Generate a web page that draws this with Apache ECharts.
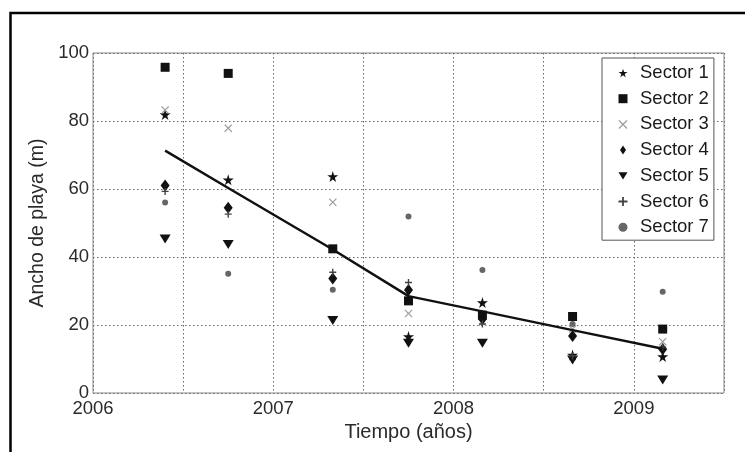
<!DOCTYPE html>
<html>
<head>
<meta charset="utf-8">
<script src="https://cdn.jsdelivr.net/npm/echarts@6/dist/echarts.min.js"></script>
<style>html,body{margin:0;padding:0;background:#fff}#c{width:745px;height:452px}</style>
</head>
<body>
<div id="c"></div>
<script>
// Sampling dates (years)
var fechas = [2006.40, 2006.75, 2007.33, 2007.75, 2008.16, 2008.66, 2009.16];
var sector1 = [81.9, 62.7, 63.7, 16.6, 26.6, 11.2, 10.7];
var sector2 = [95.8, 94.0, 42.4, 27.1, 22.9, 22.5, 18.8];
var sector3 = [83.2, 77.9, 56.1, 23.4, 20.8, 18.8, 15.1];
var sector4 = [61.0, 54.5, 33.7, 30.3, 21.8, 16.8, 12.9];
var sector5 = [45.3, 43.7, 21.3, 14.6, 14.6, 9.7, 3.8];
var sector6 = [59.3, 52.6, 35.5, 32.5, 20.3, 10.9, 13.5];
var sector7 = [56.0, 35.1, 30.4, 51.9, 36.2, 20.3, 29.8];
var tendencia = [71.3, 60.3, 42.2, 28.5, 24.0, 18.5, 13.0];
var xTicks = [2006, 2007, 2008, 2009];
var yTicks = [0, 20, 40, 60, 80, 100];
var nombres = ['Sector 1','Sector 2','Sector 3','Sector 4','Sector 5','Sector 6','Sector 7'];

var STAR = 'path://M50,0 L61,35 L98,35 L68,57 L79,91 L50,70 L21,91 L32,57 L2,35 L39,35 Z';
var CROSS = 'path://M0,1 L1,0 L5,4 L9,0 L10,1 L6,5 L10,9 L9,10 L5,6 L1,10 L0,9 L4,5 Z';
var PLUS = 'path://M4,0 L6,0 L6,4 L10,4 L10,6 L6,6 L6,10 L4,10 L4,6 L0,6 L0,4 L4,4 Z';
var TRI_DOWN = 'path://M0,0 L10,0 L5,8 Z';
var DIAM = 'path://M4,0 L8,6 L4,12 L0,6 Z';

var estilos = [
  {symbol: STAR, size: 11, color: '#111'},
  {symbol: 'rect', size: 9, color: '#111'},
  {symbol: CROSS, size: 8, color: '#9a9a9a'},
  {symbol: DIAM, size: [9, 12], color: '#111'},
  {symbol: TRI_DOWN, size: [11, 9], color: '#111'},
  {symbol: PLUS, size: 7, color: '#444'},
  {symbol: 'circle', size: 6, color: '#666'}
];
var valores = [sector1, sector2, sector3, sector4, sector5, sector6, sector7];

function pares(v) { return fechas.map(function (x, i) { return [x, v[i]]; }); }

var series = valores.map(function (v, k) {
  return {
    name: nombres[k], type: 'scatter', data: pares(v),
    symbol: estilos[k].symbol, symbolSize: estilos[k].size,
    itemStyle: {color: estilos[k].color, opacity: 1},
    z: 3
  };
});
series.push({
  name: 'tendencia', type: 'line', data: pares(tendencia),
  showSymbol: false, symbol: 'none',
  lineStyle: {color: '#111', width: 2.5}, z: 4, silent: true
});

var legendData = nombres.map(function (n, k) {
  return {name: n, icon: estilos[k].symbol};
});

var chart = echarts.init(document.getElementById('c'), null, {renderer: 'canvas'});
var font = '"Liberation Sans", Arial, sans-serif';
chart.setOption({
  animation: false,
  backgroundColor: '#fff',
  textStyle: {fontFamily: font},
  grid: {left: 93, right: 21, top: 53, bottom: 59, show: true, borderColor: '#8a8a8a', borderWidth: 1},
  xAxis: {
    type: 'value', min: 2006, max: 2009.5, interval: 0.5,
    name: 'Tiempo (años)', nameLocation: 'middle', nameGap: 26,
    nameTextStyle: {fontSize: 20, color: '#2a2a2a', fontFamily: font},
    axisLine: {show: false}, axisTick: {show: false},
    axisLabel: {
      fontSize: 18.5, color: '#2a2a2a', margin: 6, fontFamily: font,
      formatter: function (v) { return xTicks.indexOf(Math.round(v * 2) / 2) >= 0 ? String(v) : ''; }
    },
    splitLine: {show: true, lineStyle: {color: '#6a6a6a', type: [1.5, 2.5], width: 1}}
  },
  yAxis: {
    type: 'value', min: 0, max: 100, interval: 20,
    name: 'Ancho de playa (m)', nameLocation: 'middle', nameGap: 39, nameRotate: 90,
    nameTextStyle: {fontSize: 19.5, color: '#2a2a2a', fontFamily: font},
    axisLine: {show: false}, axisTick: {show: false},
    axisLabel: {
      fontSize: 18.5, color: '#2a2a2a', margin: 4, fontFamily: font,
      formatter: function (v) { return yTicks.indexOf(v) >= 0 ? String(v) : ''; }
    },
    splitLine: {show: true, lineStyle: {color: '#6a6a6a', type: [1.5, 2.5], width: 1}}
  },
  legend: {
    orient: 'vertical', left: 602, top: 58,
    data: legendData,
    itemWidth: 9, itemHeight: 9, itemGap: 5.7,
    padding: [5, 5, 3, 16.5],
    backgroundColor: '#fff',
    borderColor: '#555', borderWidth: 1,
    textStyle: {fontSize: 18.5, color: '#1a1a1a', lineHeight: 20, fontFamily: font, padding: [0, 0, 0, 7.5]},
    z: 10
  },
  graphic: [{
    type: 'polyline', silent: true,
    shape: {points: [[10.5, 452], [10.5, 13], [745, 13]]},
    style: {stroke: '#000', lineWidth: 2.5, fill: null}
  }],
  series: series
});
</script>
</body>
</html>
